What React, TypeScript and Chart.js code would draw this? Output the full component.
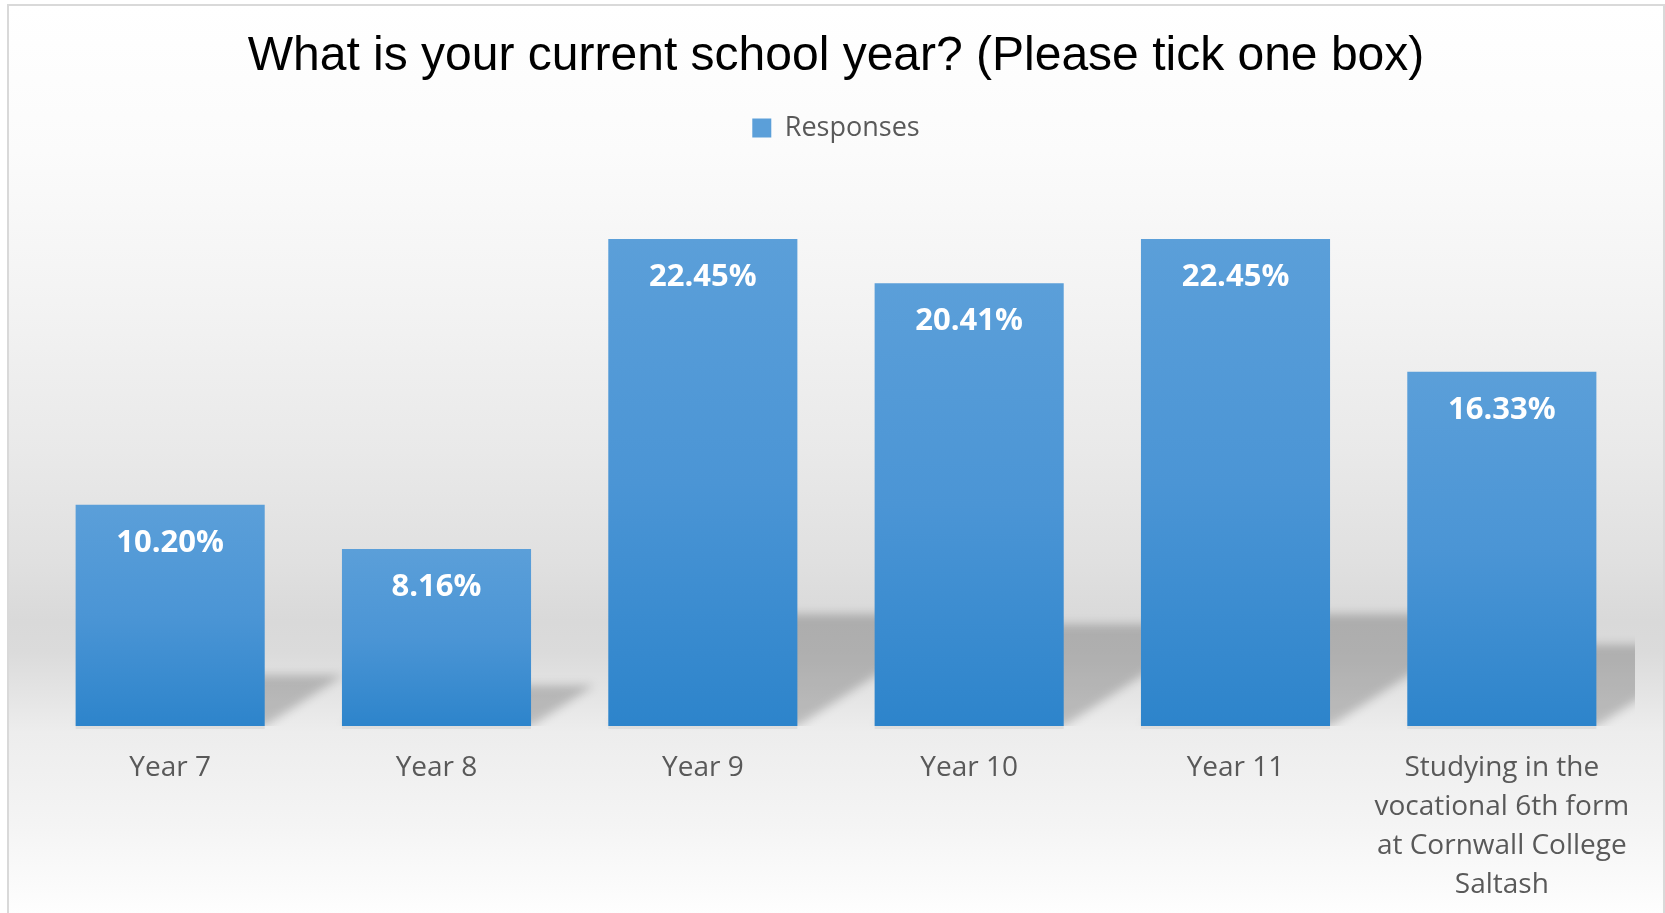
import React, { useEffect, useRef } from "react";
import { Chart, registerables } from "chart.js";

Chart.register(...registerables);

const TITLE = "What is your current school year? (Please tick one box)";
const SERIES_NAME = "Responses";
const categories: (string | string[])[] = [
  "Year 7",
  "Year 8",
  "Year 9",
  "Year 10",
  "Year 11",
  ["Studying in the", "vocational 6th form", "at Cornwall College", "Saltash"],
];
const values: number[] = [10.2, 8.16, 22.45, 20.41, 22.45, 16.33];
const Y_MIN = 0;
const Y_MAX = 25;

const BAR_TOP = "#5b9fd9";
const BAR_BOTTOM = "#2d84cb";

const shadowPlugin = {
  id: "barShadow",
  beforeDatasetsDraw(chart: any) {
    const { ctx, chartArea } = chart;
    const meta = chart.getDatasetMeta(0);
    ctx.save();
    ctx.beginPath();
    ctx.rect(chartArea.left, chartArea.top, chartArea.right - chartArea.left, chartArea.bottom - chartArea.top);
    ctx.clip();
    ctx.filter = "blur(5px)";
    ctx.fillStyle = "rgba(0,0,0,0.2)";
    meta.data.forEach((bar: any) => {
      const { x, y, base, width } = bar.getProps(["x", "y", "base", "width"], true);
      const L = x - width / 2;
      const R = x + width / 2;
      const h = base - y;
      const s = h * 0.23;
      const d = s * 1.55;
      ctx.beginPath();
      ctx.moveTo(L, base);
      ctx.lineTo(R, base);
      ctx.lineTo(R + d, base - s);
      ctx.lineTo(L + d, base - s);
      ctx.closePath();
      ctx.fill();
    });
    ctx.restore();
    ctx.save();
    ctx.fillStyle = "rgba(0,0,0,0.06)";
    meta.data.forEach((bar: any) => {
      const { x, base, width } = bar.getProps(["x", "base", "width"], true);
      ctx.fillRect(x - width / 2, base, width, 3);
    });
    ctx.restore();
  },
};

const labelPlugin = {
  id: "barLabels",
  afterDatasetsDraw(chart: any) {
    const { ctx } = chart;
    const meta = chart.getDatasetMeta(0);
    ctx.save();
    ctx.font = 'bold 31px "Open Sans"';
    ctx.fillStyle = "#ffffff";
    ctx.textAlign = "center";
    ctx.textBaseline = "middle";
    meta.data.forEach((bar: any, i: number) => {
      const { x, y } = bar.getProps(["x", "y"], true);
      ctx.fillText(values[i].toFixed(2) + "%", x, y + 38);
    });
    ctx.restore();
  },
};

const legendSpacer = {
  id: "legendSpacer",
  beforeLayout(chart: any) {
    const lg = chart.legend;
    if (lg && !lg.__patched) {
      const orig = lg.fit.bind(lg);
      lg.fit = function () {
        orig();
        this.height += 32;
      };
      lg.__patched = true;
    }
  },
};

export default function App() {
  const ref = useRef<HTMLCanvasElement | null>(null);

  useEffect(() => {
    if (!ref.current) return;
    const chart = new Chart(ref.current, {
      type: "bar",
      data: {
        labels: categories,
        datasets: [
          {
            label: SERIES_NAME,
            data: values,
            borderWidth: 0,
            backgroundColor: (c: any) => {
              const ch = c.chart;
              const area = ch.chartArea;
              if (!area || c.type !== "data" || !ch.scales.y) return "#4f97d6";
              const yS = ch.scales.y;
              const top = yS.getPixelForValue(values[c.dataIndex]);
              const bottom = yS.getPixelForValue(0);
              if (!isFinite(top) || !isFinite(bottom) || top === bottom) return "#4f97d6";
              const g = ch.ctx.createLinearGradient(0, top, 0, bottom);
              g.addColorStop(0, BAR_TOP);
              g.addColorStop(0.5, "#4b95d5");
              g.addColorStop(1, BAR_BOTTOM);
              return g;
            },
            barPercentage: 0.71,
            categoryPercentage: 1,
          },
        ],
      },
      options: {
        responsive: false,
        animation: false,
        devicePixelRatio: 1,
        layout: { padding: { left: 28, right: 28, top: 0, bottom: 0 } },
        plugins: {
          title: {
            display: true,
            text: TITLE,
            color: "#000000",
            font: { family: '"Liberation Sans", Arial, sans-serif', size: 48, weight: "normal", lineHeight: 1.2 },
            padding: { top: 22, bottom: 10 },
          },
          legend: {
            display: true,
            position: "top",
            labels: {
              color: "#595959",
              font: { family: '"Open Sans"', size: 27 },
              boxWidth: 19,
              boxHeight: 19,
              padding: 19,
            },
          },
          tooltip: { enabled: false },
        },
        scales: {
          x: {
            grid: { display: false, drawTicks: false },
            border: { display: false },
            ticks: {
              color: "#595959",
              font: { family: '"Open Sans"', size: 28, lineHeight: 1.4 },
              padding: 22,
              maxRotation: 0,
              minRotation: 0,
              autoSkip: false,
            },
            afterFit: (scale: any) => {
              scale.height = 187;
            },
          },
          y: {
            display: false,
            min: Y_MIN,
            max: Y_MAX,
          },
        },
      },
      plugins: [legendSpacer, shadowPlugin, labelPlugin],
    });
    return () => chart.destroy();
  }, []);

  const bg =
    "linear-gradient(to bottom, #ffffff 0px, #fbfbfb 146px, #f3f3f3 296px, #e9e9e9 446px, #e0e0e0 556px, #d9d9d9 616px, #dbdbdb 646px, #e6e6e6 696px, #ededed 726px, #f4f4f4 816px, #fefefe 909px)";

  return (
    <div
      style={{
        position: "absolute",
        left: 7,
        top: 4,
        width: 1658,
        height: 909,
        boxSizing: "border-box",
        borderTop: "2px solid #d9d9d9",
        borderLeft: "2px solid #d9d9d9",
        borderRight: "2px solid #d9d9d9",
        background: bg,
        overflow: "hidden",
      }}
    >
      <canvas ref={ref} width={1654} height={907} style={{ display: "block" }} />
    </div>
  );
}
